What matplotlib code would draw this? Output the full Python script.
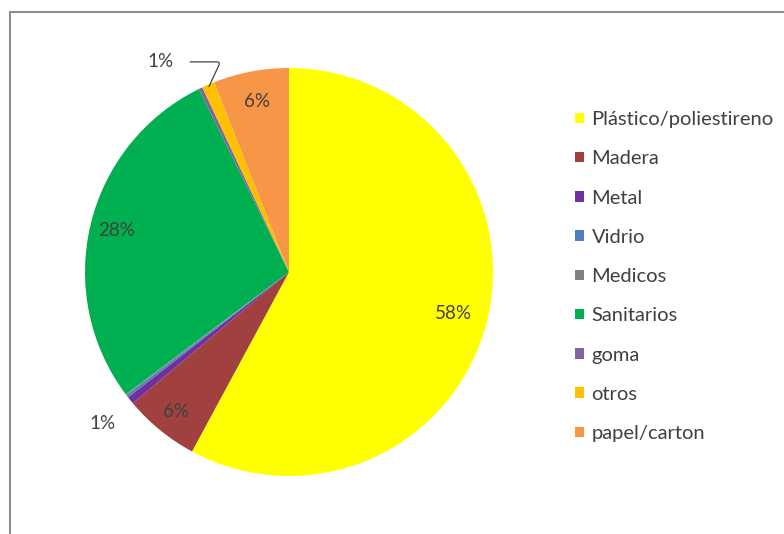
import matplotlib
matplotlib.use("Agg")
import matplotlib.pyplot as plt
from matplotlib.patches import Rectangle, Patch
import numpy as np

plt.rcParams['font.family'] = ['Lato', 'DejaVu Sans']

categories = ["Plástico/poliestireno", "Madera", "Metal", "Vidrio", "Medicos",
              "Sanitarios", "goma", "otros", "papel/carton"]
values = [58.0, 6.0, 0.6, 0.2, 0.1, 28.0, 0.3, 1.0, 6.0]
labels = ["58%", "6%", "1%", "", "", "28%", "", "1%", "6%"]
colors = ["#FFFF00", "#A0413F", "#7030A0", "#4F81BD", "#808080",
          "#00B050", "#8064A2", "#FFC000", "#F79646"]

fig = plt.figure(figsize=(7.84, 5.34), dpi=100)
W, H = 784, 534

# outer frame
frame = Rectangle((10 / W, -0.01), 1.0, (H - 12) / H + 0.01, transform=fig.transFigure,
                  fill=False, edgecolor="#8c8c8c", linewidth=1.5)
fig.patches.append(frame)

cx, cy, r = 289, 272, 204
ax = fig.add_axes([(cx - r) / W, (H - cy - r) / H, 2 * r / W, 2 * r / H])
wedges, _ = ax.pie(values, colors=colors, startangle=90, counterclock=False,
                   radius=1.0, wedgeprops=dict(linewidth=0))
ax.set_xlim(-1, 1)
ax.set_ylim(-1, 1)
ax.set_aspect("equal")
ax.axis("off")

fs = 13.5
tc = "#404040"
label_r = {0: 0.83, 1: 0.88, 5: 0.87, 8: 0.85}
for i, w in enumerate(wedges):
    if not labels[i]:
        continue
    mid = np.deg2rad((w.theta1 + w.theta2) / 2)
    if i in label_r:
        rr = label_r[i]
        ax.text(rr * np.cos(mid), rr * np.sin(mid), labels[i], ha="center", va="center",
                fontsize=fs, color=tc)
    elif i == 2:
        rr = 1.15
        ax.text(rr * np.cos(mid) - 0.02, rr * np.sin(mid) - 0.02, labels[i], ha="center",
                va="center", fontsize=fs, color=tc)
    elif i == 7:
        ex, ey = np.cos(mid), np.sin(mid)
        ax.annotate(labels[i], xy=(ex * 0.99, ey * 0.99), xytext=(-0.63, 1.03),
                    ha="center", va="center", fontsize=fs, color=tc,
                    arrowprops=dict(arrowstyle="-", color=tc, lw=0.9,
                                    connectionstyle="angle,angleA=0,angleB=65,rad=4",
                                    shrinkA=10, shrinkB=0),
                    annotation_clip=False)

handles = [Patch(facecolor=c, edgecolor="none") for c in colors]
leg = fig.legend(handles, categories, loc="upper left",
                 bbox_to_anchor=(567 / W, (H - 103) / H), frameon=False,
                 fontsize=14.5, labelcolor=tc, handlelength=0.42, handleheight=0.42,
                 handletextpad=0.4, labelspacing=1.105, borderaxespad=0)

fig.savefig("out.png", dpi=100, facecolor="white")
